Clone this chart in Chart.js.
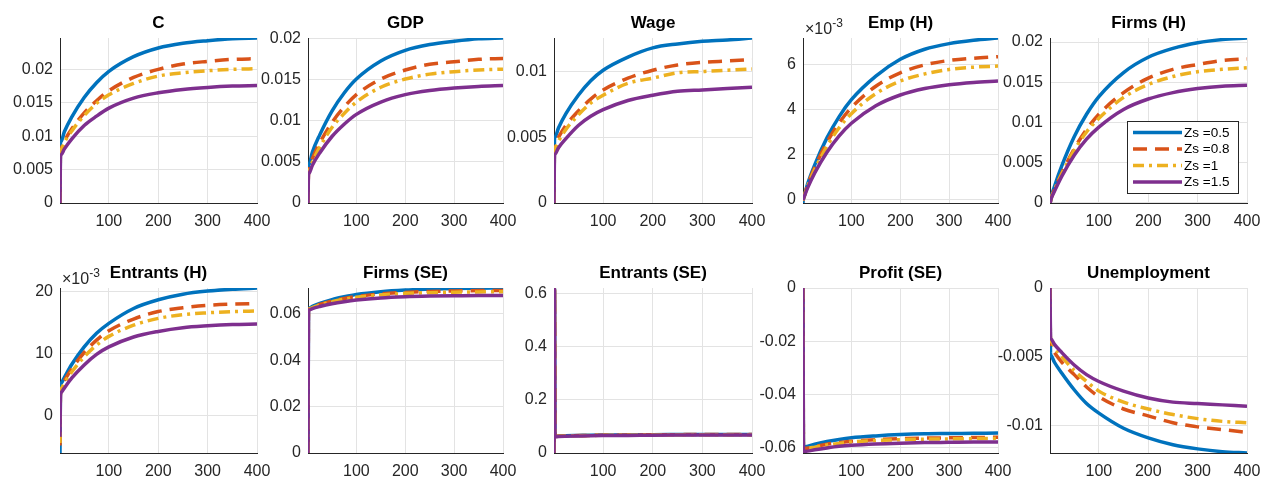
<!DOCTYPE html>
<html>
<head>
<meta charset="utf-8">
<title>Impulse responses</title>
<script src="https://cdn.jsdelivr.net/npm/chart.js@4.4.1/dist/chart.umd.min.js"></script>
<style>
  body { margin: 0; background: #fff; }
  #wrap { position: relative; width: 1261px; height: 481px; overflow: hidden; }
  #wrap canvas { position: absolute; }
</style>
</head>
<body>
<div id="wrap"></div>
<script>
const T = [1, 2, 3, 10, 25, 50, 75, 100, 150, 200, 250, 300, 350, 400];
const X_TICKS = [100, 200, 300, 400];
const SERIES = ['Zs =0.5', 'Zs =0.8', 'Zs =1', 'Zs =1.5'];

// every panel: rows are Zs = 0.5, 0.8, 1, 1.5
const C_VALS = [
  [0, 0.0090, 0.0092, 0.0107, 0.0129, 0.0158, 0.0180, 0.0197, 0.0219, 0.0232, 0.0239, 0.0243, 0.0246, 0.0247],
  [0, 0.0080, 0.0082, 0.0093, 0.0111, 0.0135, 0.0153, 0.0168, 0.0188, 0.0200, 0.0208, 0.0212, 0.0215, 0.0216],
  [0, 0.0078, 0.0080, 0.0091, 0.0108, 0.0131, 0.0149, 0.0162, 0.0179, 0.0190, 0.0195, 0.0198, 0.0200, 0.0201],
  [0, 0.0070, 0.0072, 0.0081, 0.0096, 0.0116, 0.0130, 0.0142, 0.0157, 0.0165, 0.0170, 0.0173, 0.0175, 0.0176]
];
const GDP_VALS = [
  [0, 0.0045, 0.0047, 0.0062, 0.0083, 0.0112, 0.0134, 0.0151, 0.0173, 0.0186, 0.0193, 0.0197, 0.0200, 0.0201],
  [0, 0.0040, 0.0042, 0.0054, 0.0073, 0.0098, 0.0117, 0.0132, 0.0151, 0.0162, 0.0169, 0.0172, 0.0175, 0.0176],
  [0, 0.0037, 0.0039, 0.0050, 0.0068, 0.0092, 0.0109, 0.0123, 0.0141, 0.0151, 0.0157, 0.0160, 0.0162, 0.0163],
  [0, 0.0034, 0.0036, 0.0046, 0.0061, 0.0081, 0.0096, 0.0108, 0.0123, 0.0132, 0.0137, 0.0140, 0.0142, 0.0143]
];
const WAGE_VALS = [
  [0, 0.0049, 0.0050, 0.0057, 0.0068, 0.0082, 0.0093, 0.0101, 0.0111, 0.0118, 0.0121, 0.0123, 0.0124, 0.01255],
  [0, 0.0044, 0.0045, 0.0050, 0.0059, 0.0070, 0.0079, 0.0086, 0.0095, 0.0101, 0.0105, 0.0107, 0.0108, 0.0109],
  [0, 0.0041, 0.0042, 0.0047, 0.0056, 0.0067, 0.0076, 0.0082, 0.0091, 0.0095, 0.0099, 0.0100, 0.0101, 0.0102],
  [0, 0.0036, 0.0037, 0.0042, 0.0049, 0.0059, 0.0066, 0.0071, 0.0078, 0.0082, 0.0085, 0.0086, 0.0087, 0.0088]
];
const EMP_VALS = [
  [-0.00015, 0.00005, 0.00012, 0.00067, 0.00155, 0.00275, 0.0037, 0.00445, 0.0055, 0.00625, 0.0067, 0.00695, 0.0071, 0.0072],
  [-0.00005, 0.00005, 0.00012, 0.00062, 0.00143, 0.00255, 0.00342, 0.0041, 0.00505, 0.00565, 0.0060, 0.0062, 0.0063, 0.00637],
  [-0.00005, 0.00005, 0.00012, 0.00058, 0.00134, 0.00238, 0.0032, 0.00383, 0.00472, 0.00528, 0.0056, 0.0058, 0.0059, 0.00595],
  [-0.00003, 0.00004, 0.00010, 0.00050, 0.00119, 0.00211, 0.00284, 0.0034, 0.00418, 0.00466, 0.00495, 0.00512, 0.00522, 0.00528]
];
const FIRMS_H_VALS = [
  [-0.00005, 0.0002, 0.0006, 0.0020, 0.0046, 0.0082, 0.0110, 0.0132, 0.0162, 0.0181, 0.0192, 0.0199, 0.0203, 0.0205],
  [0, 0.0002, 0.0005, 0.0016, 0.0037, 0.0067, 0.0091, 0.0110, 0.0137, 0.0155, 0.0166, 0.0172, 0.0177, 0.0179],
  [0, 0.0002, 0.0005, 0.0016, 0.0036, 0.0065, 0.0088, 0.0105, 0.0131, 0.0147, 0.0157, 0.0163, 0.0166, 0.0168],
  [0, 0.0001, 0.0004, 0.0014, 0.0033, 0.0059, 0.0079, 0.0094, 0.0116, 0.0129, 0.0137, 0.0142, 0.0145, 0.0146]
];
const ENTRANTS_H_VALS = [
  [-0.0061, 0.0046, 0.0051, 0.0061, 0.0082, 0.0110, 0.0132, 0.0148, 0.0172, 0.0186, 0.0195, 0.0200, 0.0203, 0.0205],
  [-0.0049, 0.0041, 0.0046, 0.0056, 0.0075, 0.0101, 0.0121, 0.0136, 0.0155, 0.0167, 0.0173, 0.0177, 0.0179, 0.0180],
  [-0.0045, 0.0038, 0.0042, 0.0052, 0.0070, 0.0094, 0.0113, 0.0127, 0.0145, 0.0156, 0.0162, 0.0165, 0.0167, 0.0168],
  [-0.0035, 0.0032, 0.0036, 0.0044, 0.0060, 0.0081, 0.0098, 0.0110, 0.0126, 0.0135, 0.0141, 0.0144, 0.0146, 0.0147]
];
const FIRMS_SE_VALS = [
  [0, 0.0623, 0.0624, 0.0632, 0.0645, 0.0661, 0.0673, 0.0683, 0.0695, 0.0702, 0.0706, 0.0709, 0.0710, 0.0711],
  [0, 0.0620, 0.0621, 0.0628, 0.0640, 0.0655, 0.0666, 0.0674, 0.0686, 0.0692, 0.0696, 0.0698, 0.0700, 0.0700],
  [0, 0.0619, 0.0620, 0.0627, 0.0638, 0.0652, 0.0663, 0.0671, 0.0681, 0.0688, 0.0691, 0.0693, 0.0694, 0.0695],
  [0, 0.0615, 0.0616, 0.0622, 0.0631, 0.0643, 0.0652, 0.0659, 0.0668, 0.0673, 0.0676, 0.0678, 0.0679, 0.0679]
];
const ENTRANTS_SE_VALS = [
  [0, 0.621, 0.063, 0.064, 0.065, 0.066, 0.067, 0.0675, 0.068, 0.069, 0.0695, 0.070, 0.070, 0.070],
  [0, 0.619, 0.0625, 0.0635, 0.0645, 0.0655, 0.0665, 0.067, 0.0675, 0.0685, 0.069, 0.0695, 0.0695, 0.0695],
  [0, 0.618, 0.062, 0.063, 0.064, 0.065, 0.066, 0.0665, 0.067, 0.068, 0.0685, 0.069, 0.069, 0.069],
  [0, 0.616, 0.061, 0.062, 0.063, 0.064, 0.065, 0.0655, 0.066, 0.067, 0.0675, 0.068, 0.068, 0.068]
];
const PROFIT_SE_VALS = [
  [0, -0.0600, -0.0598, -0.0594, -0.0586, -0.0576, -0.0568, -0.0562, -0.0555, -0.0550, -0.0547, -0.0546, -0.0545, -0.0544],
  [0, -0.0606, -0.0604, -0.0601, -0.0595, -0.0586, -0.0580, -0.0575, -0.0569, -0.0565, -0.0563, -0.0562, -0.0561, -0.0560],
  [0, -0.0607, -0.0606, -0.0602, -0.0597, -0.0589, -0.0583, -0.0578, -0.0572, -0.0569, -0.0567, -0.0566, -0.0565, -0.0564],
  [0, -0.0619, -0.0615, -0.0612, -0.0607, -0.0600, -0.0594, -0.0590, -0.0585, -0.0582, -0.0580, -0.0579, -0.0578, -0.0578]
];
const UNEMP_VALS = [
  [0, -0.0047, -0.0049, -0.0054, -0.0062, -0.0074, -0.0084, -0.0091, -0.0102, -0.0109, -0.0114, -0.0117, -0.0119, -0.0120],
  [0, -0.0042, -0.0043, -0.0047, -0.0054, -0.0063, -0.0072, -0.0079, -0.0088, -0.0093, -0.0098, -0.0101, -0.0103, -0.0105],
  [0, -0.0038, -0.0039, -0.0043, -0.0050, -0.0060, -0.0068, -0.0075, -0.0083, -0.0088, -0.0092, -0.0095, -0.0097, -0.0098],
  [0, -0.0036, -0.0037, -0.0041, -0.0047, -0.0056, -0.0063, -0.0068, -0.0075, -0.0080, -0.0083, -0.0084, -0.0085, -0.0086]
];

const TITLES = ['C', 'GDP', 'Wage', 'Emp (H)', 'Firms (H)',
                'Entrants (H)', 'Firms (SE)', 'Entrants (SE)', 'Profit (SE)', 'Unemployment'];
const VALUES = [C_VALS, GDP_VALS, WAGE_VALS, EMP_VALS, FIRMS_H_VALS,
                ENTRANTS_H_VALS, FIRMS_SE_VALS, ENTRANTS_SE_VALS, PROFIT_SE_VALS, UNEMP_VALS];
const Y_MIN = [0, 0, 0, -0.00015, -0.00005, -0.0061, 0, 0, -0.0619, -0.0120];
const Y_MAX = [0.0247, 0.0201, 0.01255, 0.0072, 0.0205, 0.0205, 0.0711, 0.621, 0, 0];
const Y_TICKS = [
  [0, 0.005, 0.01, 0.015, 0.02],
  [0, 0.005, 0.01, 0.015, 0.02],
  [0, 0.005, 0.01],
  [0, 0.002, 0.004, 0.006],
  [0, 0.005, 0.01, 0.015, 0.02],
  [0, 0.01, 0.02],
  [0, 0.02, 0.04, 0.06],
  [0, 0.2, 0.4, 0.6],
  [-0.06, -0.04, -0.02, 0],
  [-0.01, -0.005, 0]
];
const SCALED = [false, false, false, true, false, true, false, false, false, false]; // x10^-3 axes

// look
const FONT = "'Liberation Sans', Arial, Helvetica, sans-serif";
const COLORS = ['#0072BD', '#D95319', '#EDB120', '#7E2F8E'];
const DASHES = [[], [14, 8], [11, 5, 3, 5], []];
const AX = '#262626';
const GRID = '#e3e3e3';
const LEFTS = [60, 308, 554, 803, 1050];
const RIGHTS = [257, 503, 752, 998, 1247];

Chart.defaults.font.family = FONT;

function fmt(v, scaled) {
  if (scaled) return String(Math.round(v * 1000));
  return String(parseFloat(v.toFixed(6)));
}

// title centred on the plot box (matlab style), not on the canvas
const panelTitle = {
  id: 'panelTitle',
  afterDraw(chart, args, opts) {
    const ctx = chart.ctx, a = chart.chartArea;
    ctx.save();
    ctx.font = 'bold 17px ' + FONT;
    ctx.fillStyle = '#000';
    ctx.textAlign = 'center';
    ctx.textBaseline = 'middle';
    ctx.fillText(opts.text, (a.left + a.right) / 2, 23);
    ctx.restore();
  }
};

const expLabel = {
  id: 'expLabel',
  afterDraw(chart) {
    const ctx = chart.ctx, a = chart.chartArea;
    ctx.save();
    ctx.fillStyle = AX;
    ctx.textBaseline = 'alphabetic';
    ctx.font = '16px ' + FONT;
    ctx.fillText('\u00d710', a.left + 2, a.top - 4);
    const w = ctx.measureText('\u00d710').width;
    ctx.font = '12px ' + FONT;
    ctx.fillText('-3', a.left + 2 + w, a.top - 11);
    ctx.restore();
  }
};

const legendBox = {
  id: 'legendBox',
  afterDatasetsDraw(chart) {
    const ctx = chart.ctx, a = chart.chartArea;
    const w = 111, h = 72;
    const x0 = a.right - 9 - w, y0 = a.bottom - 10 - h;
    ctx.save();
    ctx.fillStyle = '#fff';
    ctx.fillRect(x0, y0, w, h);
    ctx.strokeStyle = AX;
    ctx.lineWidth = 1;
    ctx.strokeRect(x0 + 0.5, y0 + 0.5, w, h);
    // legend follows series order, not draw order
    const sets = chart.data.datasets.slice().sort((p, q) => p.idx - q.idx);
    sets.forEach((ds, i) => {
      const y = y0 + 11.5 + i * 16.5;
      ctx.beginPath();
      ctx.setLineDash(ds.borderDash);
      ctx.strokeStyle = ds.borderColor;
      ctx.lineWidth = 3.5;
      ctx.moveTo(x0 + 6, y);
      ctx.lineTo(x0 + 55, y);
      ctx.stroke();
      ctx.setLineDash([]);
      ctx.fillStyle = '#000';
      ctx.font = '13.5px ' + FONT;
      ctx.textBaseline = 'middle';
      ctx.fillText(ds.label, x0 + 57, y + 0.5);
    });
    ctx.restore();
  }
};

const wrap = document.getElementById('wrap');

TITLES.forEach((title, p) => {
  const row = Math.floor(p / 5), col = p % 5;
  const cv = document.createElement('canvas');
  cv.width = RIGHTS[col] - LEFTS[col] + 60 + 16;
  cv.height = 231;
  cv.style.left = (LEFTS[col] - 60) + 'px';
  cv.style.top = (row * 250) + 'px';
  wrap.appendChild(cv);

  // purple drawn last (on top), like the original
  const datasets = SERIES.map((name, i) => ({
    idx: i,
    label: name,
    data: T.map((t, k) => ({ x: t, y: VALUES[p][i][k] })),
    borderColor: COLORS[i],
    borderDash: DASHES[i],
    borderWidth: 3.5,
    borderJoinStyle: 'round',
    pointRadius: 0,
    cubicInterpolationMode: 'monotone',
    fill: false,
    order: 3 - i
  }));

  const plugins = [panelTitle];
  if (SCALED[p]) plugins.push(expLabel);
  if (title === 'Firms (H)') plugins.push(legendBox);

  new Chart(cv.getContext('2d'), {
    type: 'line',
    data: { datasets },
    plugins,
    options: {
      responsive: false,
      animation: false,
      events: [],
      layout: { padding: { left: 0, right: 16, top: 38, bottom: 0 } },
      plugins: {
        legend: { display: false },
        tooltip: { enabled: false },
        title: { display: false },
        panelTitle: { text: title }
      },
      scales: {
        x: {
          type: 'linear',
          min: 1,
          max: 400,
          afterBuildTicks: s => { s.ticks = X_TICKS.map(v => ({ value: v })); },
          afterFit: s => { s.height = 28; s.paddingLeft = 0; s.paddingRight = 0; },
          border: { color: AX, width: 1 },
          grid: { color: GRID, drawTicks: false },
          ticks: { padding: 9, color: AX, font: { size: 16 }, maxRotation: 0, autoSkip: false,
                   callback: v => String(v) }
        },
        y: {
          min: Y_MIN[p],
          max: Y_MAX[p],
          afterBuildTicks: s => { s.ticks = Y_TICKS[p].map(v => ({ value: v })); },
          afterFit: s => { s.width = 60; s.paddingTop = 0; s.paddingBottom = 0; },
          border: { color: AX, width: 1 },
          grid: { color: GRID, drawTicks: false },
          ticks: { padding: 7, color: AX, font: { size: 16 }, autoSkip: false,
                   callback: v => fmt(v, SCALED[p]) }
        }
      }
    }
  });
});
</script>
</body>
</html>
